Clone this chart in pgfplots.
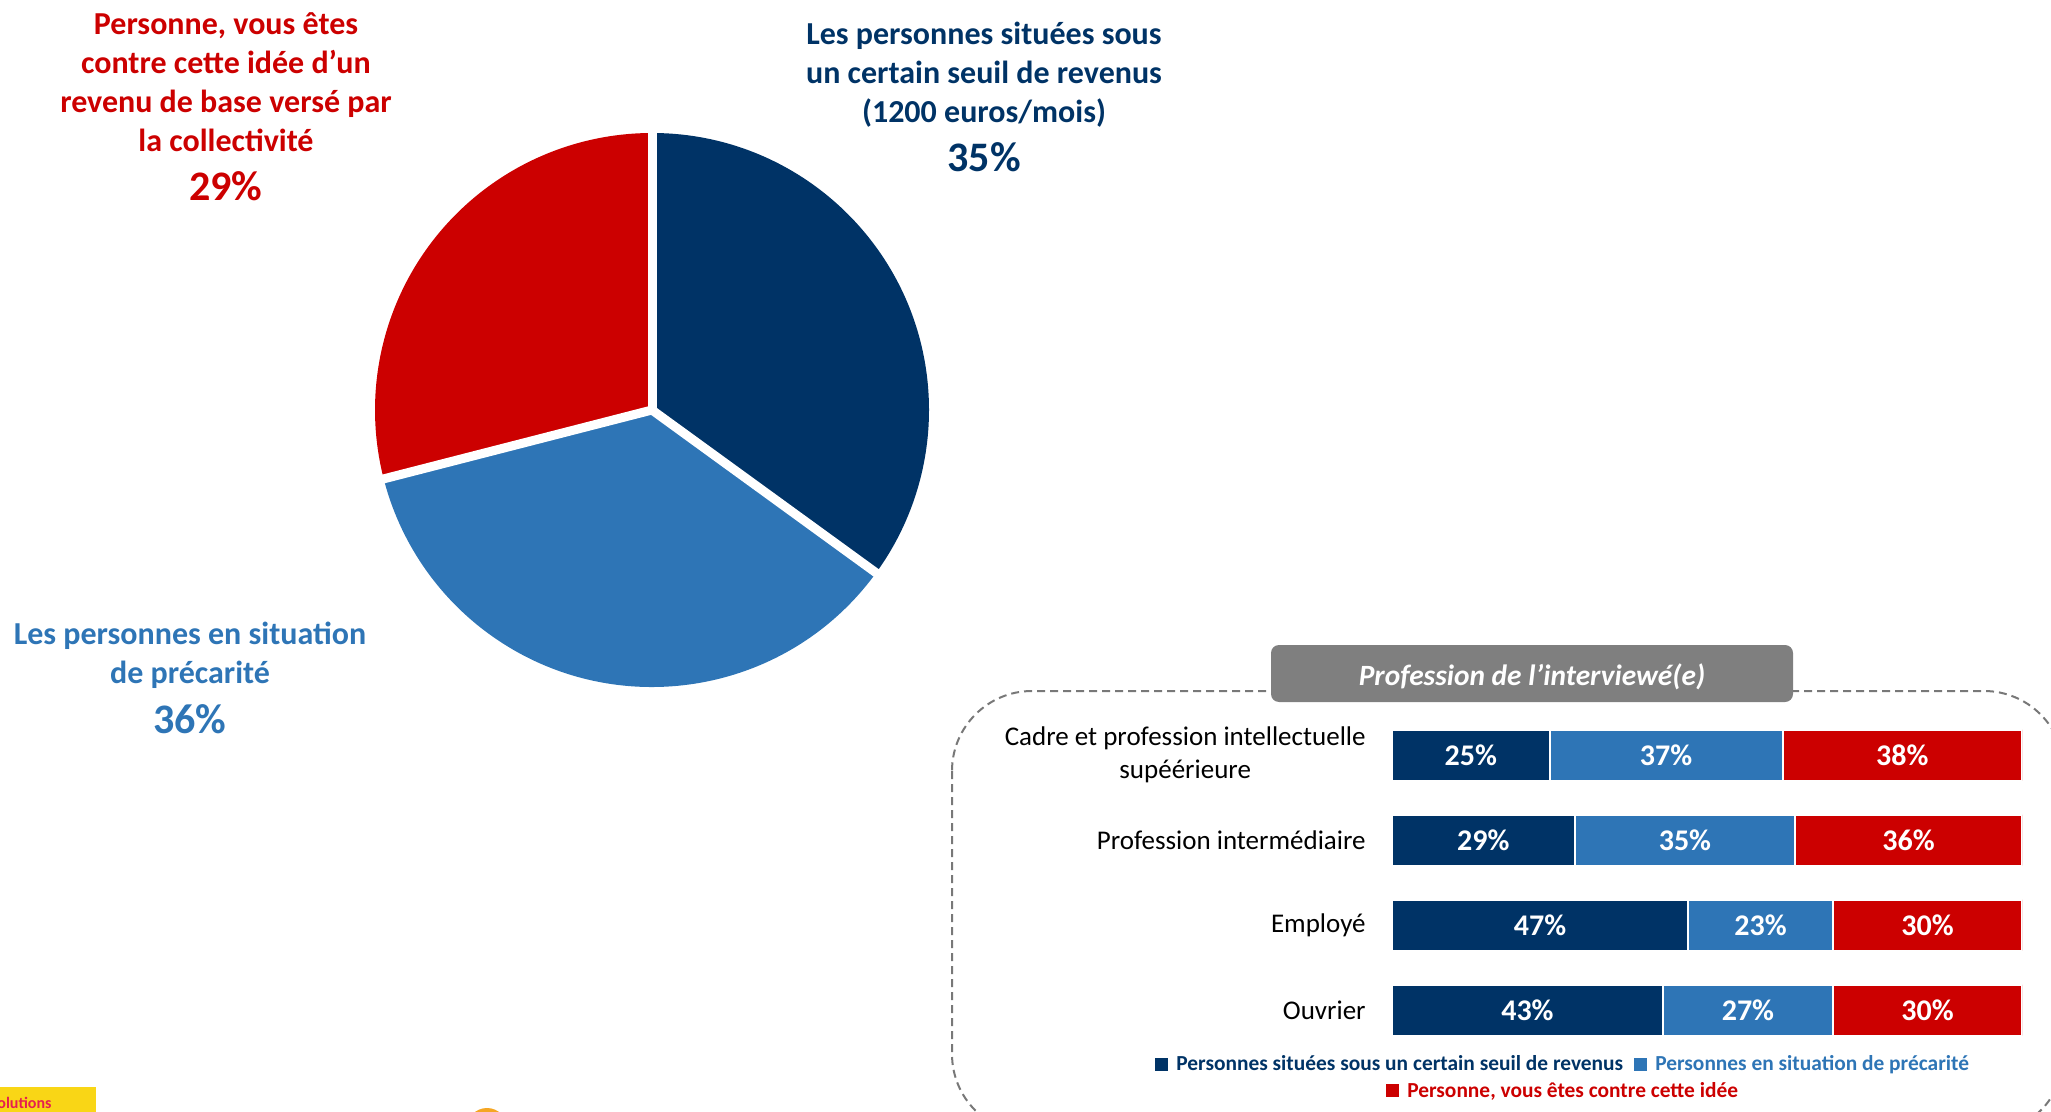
\documentclass[border=0pt]{standalone}
\usepackage{fontspec}
\setmainfont{Carlito}
\usepackage{pgfplots}
\usepackage{pgfplotstable}
\pgfplotsset{compat=1.18}

\definecolor{dblue}{RGB}{0,51,102}
\definecolor{lblue}{RGB}{46,117,182}
\definecolor{cred}{RGB}{204,0,0}
\definecolor{boxgray}{RGB}{127,127,127}
\definecolor{dashgray}{RGB}{120,120,120}
\definecolor{logoyellow}{RGB}{249,214,22}
\definecolor{logopink}{RGB}{230,30,80}
\definecolor{logoorange}{RGB}{245,166,35}

% profession breakdown (percent)
\pgfplotstableread{
cat dessous precaire contre
0   25      37       38
1   29      35       36
2   47      23       30
3   43      27       30
}\prof

% pie shares
\def\pA{35}% sous un seuil de revenus
\def\pB{36}% situation de precarite
\def\pC{29}% contre

\begin{document}
\begin{tikzpicture}[x=0.5pt,y=-0.5pt]
\path[use as bounding box] (0,0) rectangle (2051,1112);
\coordinate (pieSW) at (375,687);
\coordinate (barNW) at (1392,712.5);

\pgfmathsetmacro\aA{90}
\pgfmathsetmacro\aB{\aA-3.6*\pA}
\pgfmathsetmacro\aC{\aB-3.6*\pB}
\pgfmathsetmacro\aD{\aC-3.6*\pC}

\begin{axis}[at={(pieSW)}, anchor=south west, scale only axis,
  width=277pt, height=277pt, xmin=-277, xmax=277, ymin=-277, ymax=277, hide axis]
  \fill[dblue] (axis cs:0,0) -- ++(\aA:138.5pt) arc[start angle=\aA, end angle=\aB, radius=138.5pt] -- cycle;
  \fill[lblue] (axis cs:0,0) -- ++(\aB:138.5pt) arc[start angle=\aB, end angle=\aC, radius=138.5pt] -- cycle;
  \fill[cred]  (axis cs:0,0) -- ++(\aC:138.5pt) arc[start angle=\aC, end angle=\aD, radius=138.5pt] -- cycle;
  \draw[white, line width=4.5pt] (axis cs:0,0) -- ++(\aA:143pt);
  \draw[white, line width=4.5pt] (axis cs:0,0) -- ++(\aB:143pt);
  \draw[white, line width=4.5pt] (axis cs:0,0) -- ++(\aC:143pt);
\end{axis}

% pie labels
\node[align=center, text=cred, font=\bfseries\fontsize{16}{19.5}\selectfont] at (226,82)
  {Personne, vous êtes\\contre cette idée d’un\\revenu de base versé par\\la collectivité};
\node[text=cred, font=\bfseries\fontsize{21}{24}\selectfont] at (226,186) {29\%};
\node[align=center, text=dblue, font=\bfseries\fontsize{16}{19.5}\selectfont] at (984,75)
  {Les personnes situées sous\\un certain seuil de revenus\\(1200 euros/mois)};
\node[text=dblue, font=\bfseries\fontsize{21}{24}\selectfont] at (984,157) {35\%};
\node[align=center, text=lblue, font=\bfseries\fontsize{16}{19.5}\selectfont] at (190,655)
  {Les personnes en situation\\de précarité};
\node[text=lblue, font=\bfseries\fontsize{21}{24}\selectfont] at (190,719) {36\%};

% frame of the breakdown
\draw[dashgray, line width=1pt, dash pattern=on 4pt off 2.5pt, rounded corners=40pt]
  (952,691) rectangle (2064,1134);
\fill[boxgray, rounded corners=4pt] (1271,645) rectangle (1793,702);
\node[text=white, font=\bfseries\itshape\fontsize{14.7}{17}\selectfont] at (1532,677)
  {Profession de l’interviewé(e)};

\begin{axis}[at={(barNW)}, anchor=north west, scale only axis,
  width=315pt, height=170pt,
  xbar stacked, bar width=25.5pt,
  xmin=0, xmax=100, ymin=-0.5, ymax=3.5, y dir=reverse,
  axis line style={draw=none}, major tick length=0pt,
  xtick=\empty, ytick={0,1,2,3},
  yticklabels={{Cadre et profession intellectuelle\\supéérieure},{Profession intermédiaire},{Employé},{Ouvrier}},
  yticklabel style={align=center, font=\fontsize{13.5}{16.5}\selectfont, inner sep=0pt, xshift=-13pt},
  point meta=rawx,
  /pgf/number format/assume math mode=true,
  nodes near coords={\pgfmathprintnumber{\pgfplotspointmeta}\%},
  every node near coord/.append style={anchor=center, text=white, inner sep=0pt,
    font=\bfseries\fontsize{15}{17}\selectfont},
  ]
  \addplot[fill=dblue, draw=white, line width=1pt] table[x=dessous, y=cat] {\prof};
  \addplot[fill=lblue, draw=white, line width=1pt] table[x=precaire, y=cat] {\prof};
  \addplot[fill=cred, draw=white, line width=1pt] table[x=contre, y=cat] {\prof};
\end{axis}

% legend
\node[font=\bfseries\fontsize{10.7}{12}\selectfont] at (1562,1065)
  {\textcolor{dblue}{\rule{6.5pt}{6.5pt}\, Personnes situées sous un certain seuil de revenus}\enspace
   \textcolor{lblue}{\rule{6.5pt}{6.5pt}\, Personnes en situation de précarité}};
\node[font=\bfseries\fontsize{10.7}{12}\selectfont] at (1562,1091)
  {\textcolor{cred}{\rule{6.5pt}{6.5pt}\, Personne, vous êtes contre cette idée}};

% cropped logos at the bottom edge
\fill[logoyellow] (0,1087) rectangle (96,1116);
\node[anchor=west, inner sep=0pt, text=logopink, font=\bfseries\fontsize{8}{9}\selectfont] at (-3,1103) {olutions};
\fill[logoorange] (487,1128) circle[radius=10pt];
\end{tikzpicture}
\end{document}
